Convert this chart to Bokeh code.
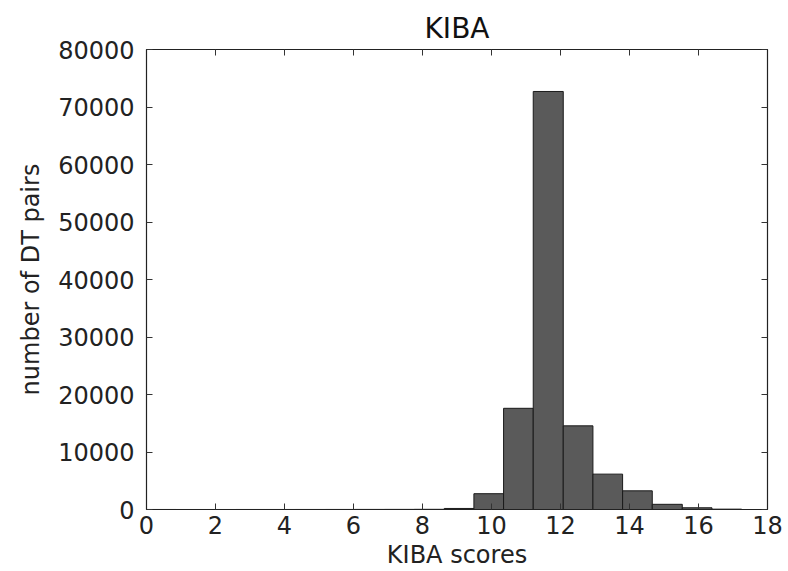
from bokeh.plotting import figure
from bokeh.models import Range1d, LinearAxis, SingleIntervalTicker, ColumnDataSource
from bokeh.embed import file_html
from bokeh.resources import INLINE

# Histogram of KIBA scores (20 bins)
bin_edges = [0.0, 0.86, 1.73, 2.59, 3.45, 4.31, 5.18, 6.04, 6.9, 7.76, 8.63,
             9.49, 10.35, 11.21, 12.08, 12.94, 13.8, 14.66, 15.53, 16.39, 17.25]
counts = [3, 2, 2, 4, 5, 8, 10, 14, 20, 30, 180,
          2750, 17600, 72700, 14550, 6150, 3250, 900, 300, 60]

title_text = "KIBA"
x_label = "KIBA scores"
y_label = "number of DT pairs"

FONT = "DejaVu Sans"

src = ColumnDataSource(dict(
    left=bin_edges[:-1], right=bin_edges[1:], top=counts, bottom=[0] * len(counts)
))

p = figure(width=788, height=571, output_backend="svg", toolbar_location=None,
           x_range=Range1d(0, 18), y_range=Range1d(0, 80000),
           min_border_left=146, min_border_right=21, min_border_top=49, min_border_bottom=62,
           title=title_text)

p.quad(left="left", right="right", top="top", bottom="bottom", source=src,
       fill_color="#5a5a5a", line_color="#1a1a1a", line_width=1)

p.title.text_font = FONT
p.title.text_font_size = "28px"
p.title.text_font_style = "normal"
p.title.align = "center"
p.title.text_color = "#111111"
p.title.standoff = 1

p.xgrid.visible = False
p.ygrid.visible = False
p.outline_line_color = "#222222"
p.outline_line_width = 1.2
p.background_fill_color = "white"
p.border_fill_color = "white"

p.xaxis.ticker = SingleIntervalTicker(interval=2)
p.yaxis.ticker = SingleIntervalTicker(interval=10000)

for ax in (p.xaxis[0], p.yaxis[0]):
    ax.major_tick_in = 6
    ax.major_tick_out = 0
    ax.minor_tick_line_color = None
    ax.major_tick_line_color = "#333333"
    ax.axis_line_color = "#222222"
    ax.major_label_text_font = FONT
    ax.major_label_text_font_size = "24px"
    ax.major_label_text_color = "#222222"
    ax.axis_label_text_font = FONT
    ax.axis_label_text_font_size = "24px"
    ax.axis_label_text_font_style = "normal"
    ax.axis_label_text_color = "#222222"

p.xaxis.axis_label = x_label
p.yaxis.axis_label = y_label
p.xaxis.major_label_standoff = 2
p.xaxis.axis_label_standoff = 4
p.yaxis.major_label_standoff = 8
p.yaxis.axis_label_standoff = 10

# Inward ticks on top and right (labels not drawn)
top_ax = LinearAxis(ticker=SingleIntervalTicker(interval=2))
right_ax = LinearAxis(ticker=SingleIntervalTicker(interval=10000))
for ax in (top_ax, right_ax):
    ax.major_tick_in = 6
    ax.major_tick_out = 0
    ax.minor_tick_line_color = None
    ax.major_tick_line_color = "#333333"
    ax.axis_line_color = "#222222"
    ax.major_label_text_color = None
    ax.major_label_text_font_size = "1px"
    ax.major_label_standoff = 0
p.add_layout(top_ax, "above")
p.add_layout(right_ax, "right")

open("out.html", "w").write(file_html(p, INLINE))
